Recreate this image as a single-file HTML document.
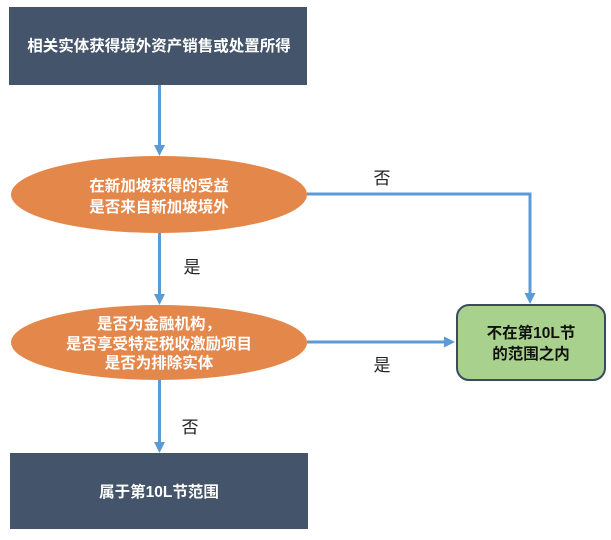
<!DOCTYPE html>
<html>
<head>
<meta charset="utf-8">
<style>
  html, body { margin: 0; padding: 0; background: #ffffff; }
  svg { display: block; }
  text { font-family: "Liberation Sans", "Noto Sans CJK SC", "WenQuanYi Zen Hei", sans-serif; }
  .w { fill: #ffffff; font-weight: bold; font-size: 15.5px; }
  .b { fill: #111111; font-weight: bold; font-size: 15.5px; }
  .lbl { fill: #222222; font-size: 17px; }
</style>
</head>
<body>
<svg width="611" height="540" viewBox="0 0 611 540" xmlns="http://www.w3.org/2000/svg">
  <defs>
    <marker id="ah" markerWidth="10" markerHeight="10" refX="0" refY="5" orient="auto" markerUnits="userSpaceOnUse">
      <path d="M0,0 L10,5 L0,10 Z" fill="#5b9bd5"/>
    </marker>
  </defs>

  <!-- Top box -->
  <rect x="9" y="7" width="298" height="78" fill="#44546a"/>
  <text class="w" x="159" y="51" text-anchor="middle">相关实体获得境外资产销售或处置所得</text>

  <!-- Arrow top -> ellipse1 -->
  <line x1="159.5" y1="85" x2="159.5" y2="146" stroke="#5b9bd5" stroke-width="3"/>
  <path d="M154,145 L165,145 L159.5,156 Z" fill="#5b9bd5"/>

  <!-- Ellipse 1 -->
  <ellipse cx="159" cy="194.5" rx="148" ry="38.5" fill="#e4874b"/>
  <text class="w" x="159" y="191" text-anchor="middle">在新加坡获得的受益</text>
  <text class="w" x="159" y="212" text-anchor="middle">是否来自新加坡境外</text>

  <!-- Arrow ellipse1 -> ellipse2 -->
  <line x1="159.5" y1="233" x2="159.5" y2="295" stroke="#5b9bd5" stroke-width="3"/>
  <path d="M154,294 L165,294 L159.5,305 Z" fill="#5b9bd5"/>
  <text class="lbl" x="192" y="273" text-anchor="middle">是</text>

  <!-- Ellipse 2 -->
  <ellipse cx="159" cy="342.5" rx="148" ry="37.5" fill="#e4874b"/>
  <text class="w" x="159" y="329" text-anchor="middle">是否为金融机构，</text>
  <text class="w" x="159" y="349" text-anchor="middle">是否享受特定税收激励项目</text>
  <text class="w" x="159" y="368" text-anchor="middle">是否为排除实体</text>

  <!-- Arrow ellipse2 -> bottom box -->
  <line x1="159.5" y1="380" x2="159.5" y2="443" stroke="#5b9bd5" stroke-width="3"/>
  <path d="M154,442 L165,442 L159.5,453 Z" fill="#5b9bd5"/>
  <text class="lbl" x="190" y="433" text-anchor="middle">否</text>

  <!-- Bottom box -->
  <rect x="10" y="453" width="298" height="76" fill="#44546a"/>
  <text class="w" x="159" y="497" text-anchor="middle">属于第10L节范围</text>

  <!-- Ellipse1 -> green box (否) -->
  <polyline points="307,194 530,194 530,294" fill="none" stroke="#5b9bd5" stroke-width="3"/>
  <path d="M524.5,293 L535.5,293 L530,304 Z" fill="#5b9bd5"/>
  <text class="lbl" x="382" y="184" text-anchor="middle">否</text>

  <!-- Ellipse2 -> green box (是) -->
  <line x1="307" y1="342" x2="445" y2="342" stroke="#5b9bd5" stroke-width="3"/>
  <path d="M444,336.5 L444,347.5 L455,342 Z" fill="#5b9bd5"/>
  <text class="lbl" x="382" y="371" text-anchor="middle">是</text>

  <!-- Green box -->
  <rect x="457" y="305" width="148" height="75" rx="12" ry="12" fill="#a9d18e" stroke="#3b4a5f" stroke-width="2"/>
  <text class="b" x="531" y="338" text-anchor="middle">不在第10L节</text>
  <text class="b" x="531" y="359" text-anchor="middle">的范围之内</text>
</svg>
</body>
</html>
